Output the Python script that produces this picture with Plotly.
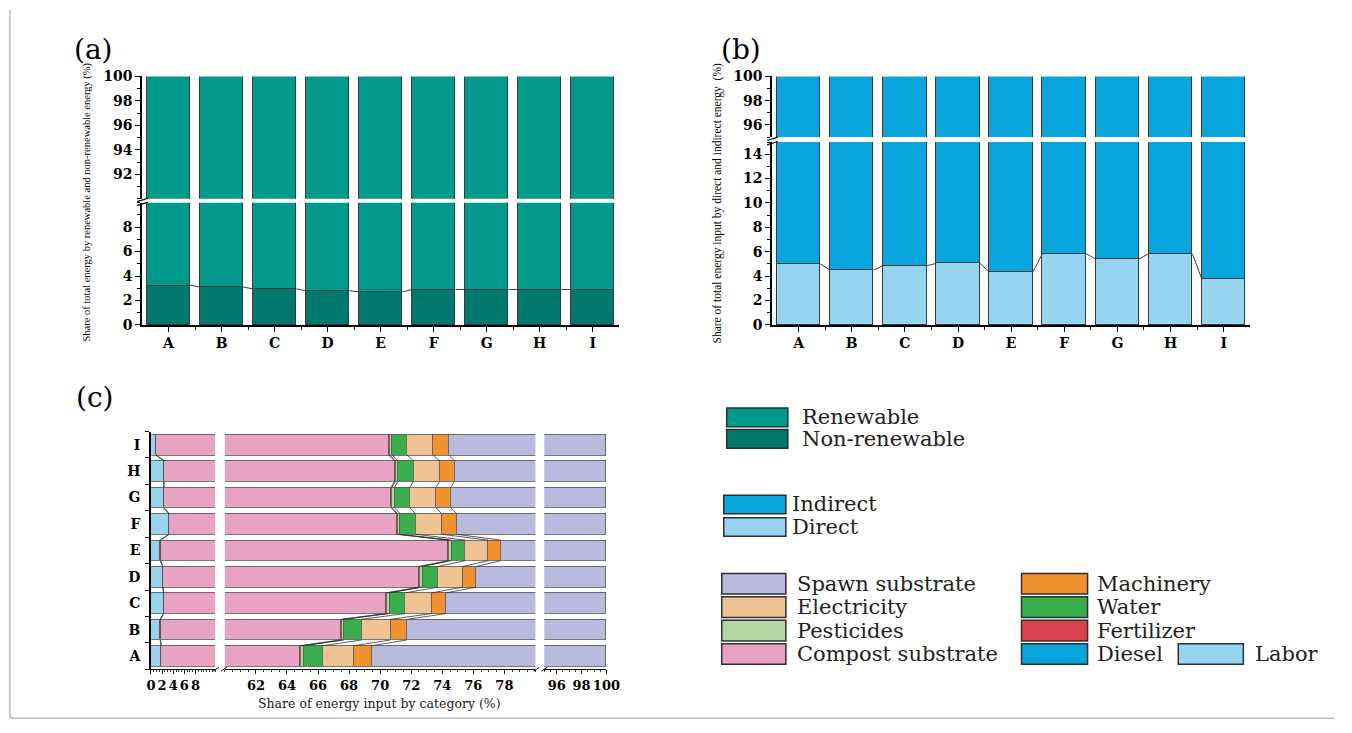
import plotly.graph_objects as go

W, H = 1352, 733

groups = ["A", "B", "C", "D", "E", "F", "G", "H", "I"]

# (a) share of total energy: renewable vs non-renewable (%)
non_renewable = [3.25, 3.10, 2.95, 2.80, 2.70, 2.90, 2.90, 2.90, 2.90]
renewable = [round(100 - v, 2) for v in non_renewable]

# (b) share of total energy input: direct vs indirect (%)
direct = [5.00, 4.50, 4.85, 5.05, 4.35, 5.85, 5.40, 5.85, 3.75]
indirect = [round(100 - v, 2) for v in direct]

# (c) share of energy input by category (%)
labor = [1.80, 1.65, 2.25, 2.10, 1.65, 3.20, 2.30, 2.30, 0.90]
diesel = [0.08, 0.08, 0.08, 0.08, 0.08, 0.08, 0.08, 0.08, 0.08]
compost = [62.97, 65.74, 68.06, 70.33, 72.64, 67.79, 68.33, 68.54, 69.58]
fertilizer = [0.06, 0.06, 0.06, 0.06, 0.06, 0.06, 0.06, 0.06, 0.06]
pesticides = [0.16, 0.16, 0.16, 0.16, 0.16, 0.16, 0.16, 0.16, 0.16]
water = [1.23, 1.12, 1.00, 0.99, 0.89, 0.99, 0.98, 1.00, 0.95]
electricity = [2.01, 1.87, 1.71, 1.59, 1.48, 1.69, 1.69, 1.69, 1.69]
machinery = [1.14, 1.06, 0.93, 0.87, 0.81, 0.95, 0.95, 0.95, 1.00]

parts_c = [labor, diesel, compost, fertilizer, pesticides, water, electricity, machinery]
spawn = [round(100 - sum(p[i] for p in parts_c), 2) for i in range(len(groups))]

# colours
C_RENEW, C_NONRENEW = "#00998b", "#00786d"
C_INDIRECT, C_DIRECT = "#08a6dd", "#96d4f0"
C_LABOR, C_DIESEL = "#96d4f0", "#08a6dd"
C_COMPOST, C_FERT, C_PEST = "#e8a2c2", "#d8434f", "#b4d6a2"
C_WATER, C_ELEC, C_MACH, C_SPAWN = "#3aae4c", "#f0c394", "#ef922f", "#b9badd"
OUTLINE = "#3a3a3a"

SERIF = "DejaVu Serif"
TIMES = "Liberation Serif"


def px(x):
    return x / W


def py(y):
    return 1 - y / H


idx = list(range(len(groups)))
fig = go.Figure()

# ---------- (a) and (b): vertical stacked bars on broken y axes ----------
BW = 0.82


def vbar(vals, color, xa, ya):
    fig.add_trace(go.Bar(x=idx, y=vals, width=BW, marker=dict(color=color, line=dict(color=OUTLINE, width=1)),
                         xaxis=xa, yaxis=ya, showlegend=False, hoverinfo="skip"))


for xa, ya in [("x", "y"), ("x2", "y2")]:
    vbar(non_renewable, C_NONRENEW, xa, ya)
    vbar(renewable, C_RENEW, xa, ya)
for xa, ya in [("x3", "y3"), ("x4", "y4")]:
    vbar(direct, C_DIRECT, xa, ya)
    vbar(indirect, C_INDIRECT, xa, ya)


def connectors_v(vals, xa, ya):
    xs, ys = [], []
    for i in range(len(vals) - 1):
        xs += [i + BW / 2, i + 1 - BW / 2, None]
        ys += [vals[i], vals[i + 1], None]
    fig.add_trace(go.Scatter(x=xs, y=ys, mode="lines", line=dict(color=OUTLINE, width=1),
                             xaxis=xa, yaxis=ya, showlegend=False, hoverinfo="skip"))


connectors_v(non_renewable, "x", "y")
connectors_v(direct, "x3", "y3")

# ---------- (c): horizontal stacked bars on a broken x axis ----------
HW = 0.78
series_c = [(labor, C_LABOR), (diesel, C_DIESEL), (compost, C_COMPOST), (fertilizer, C_FERT),
            (pesticides, C_PEST), (water, C_WATER), (electricity, C_ELEC), (machinery, C_MACH),
            (spawn, C_SPAWN)]
seg_axes = [("x5", "y5", 0, 11.5), ("x6", "y6", 60, 80), ("x7", "y7", 95, 100)]
for xa, ya, lo, hi in seg_axes:
    for vals, col in series_c:
        fig.add_trace(go.Bar(x=vals, y=idx, orientation="h", width=HW,
                             marker=dict(color=col, line=dict(color="#555555", width=0.8)),
                             xaxis=xa, yaxis=ya, showlegend=False, hoverinfo="skip"))

# connecting lines between the stacked boundaries of neighbouring rows
cum = []
running = [0.0] * len(groups)
for vals, _ in series_c[:-1]:
    running = [running[i] + vals[i] for i in range(len(groups))]
    cum.append(list(running))
for bnd in cum:
    for xa, ya, lo, hi in seg_axes:
        xs, ys = [], []
        for i in range(len(groups) - 1):
            a, b = bnd[i], bnd[i + 1]
            if lo <= a <= hi and lo <= b <= hi:
                xs += [a, b, None]
                ys += [i + HW / 2, i + 1 - HW / 2, None]
        if xs:
            fig.add_trace(go.Scatter(x=xs, y=ys, mode="lines", line=dict(color="#333333", width=0.8),
                                     xaxis=xa, yaxis=ya, showlegend=False, hoverinfo="skip"))

# ---------- axes ----------
tick_font = dict(family=SERIF, size=14, color="black", weight="bold")
axis_common = dict(showgrid=False, zeroline=False, showline=True, linecolor="black", linewidth=1.5,
                   ticks="outside", ticklen=5, tickwidth=1, tickcolor="black", tickfont=tick_font)
cat_x = dict(axis_common, range=[-0.5, 8.5], tickvals=idx, ticktext=groups,
             minor=dict(tickvals=[i + 0.5 for i in range(8)], ticks="outside", ticklen=3, tickcolor="black"))

layout_axes = dict(
    xaxis=dict(cat_x, domain=[px(139), px(623)], anchor="y"),
    yaxis=dict(axis_common, domain=[py(324), py(199)], anchor="x", range=[0, 10],
               tickvals=[0, 2, 4, 6, 8], minor=dict(dtick=1, ticks="outside", ticklen=3, tickcolor="black")),
    xaxis2=dict(domain=[px(139), px(623)], anchor="y2", matches="x", visible=False),
    yaxis2=dict(axis_common, domain=[py(195), py(70)], anchor="x2", range=[90, 100],
                tickvals=[92, 94, 96, 98, 100], minor=dict(dtick=1, ticks="outside", ticklen=3, tickcolor="black")),
    xaxis3=dict(cat_x, domain=[px(778), px(1263)], anchor="y3"),
    yaxis3=dict(axis_common, domain=[py(324), py(137)], anchor="x3", range=[0, 15],
                tickvals=[0, 2, 4, 6, 8, 10, 12, 14], minor=dict(dtick=1, ticks="outside", ticklen=3, tickcolor="black")),
    xaxis4=dict(domain=[px(778), px(1263)], anchor="y4", matches="x3", visible=False),
    yaxis4=dict(axis_common, domain=[py(132), py(70)], anchor="x4", range=[95, 100],
                tickvals=[96, 98, 100], minor=dict(dtick=1, ticks="outside", ticklen=3, tickcolor="black")),
)

tick_font_c = dict(family=SERIF, size=13, color="black", weight="bold")
minor_c = dict(dtick=0.5, ticks="outside", ticklen=2, tickcolor="#333333")
seg_x = dict(axis_common, ticklen=4, tickfont=tick_font_c, linewidth=1.2)
layout_axes.update(
    xaxis5=dict(seg_x, domain=[px(148), px(213)], anchor="y5", range=[0, 11.5],
                tickvals=[0, 2, 4, 6, 8], minor=minor_c),
    xaxis6=dict(seg_x, domain=[px(223), px(538)], anchor="y6", range=[60, 80],
                tickvals=list(range(62, 80, 2)), minor=minor_c),
    xaxis7=dict(seg_x, domain=[px(547), px(610)], anchor="y7", range=[95, 100],
                tickvals=[96, 98, 100], minor=minor_c),
    yaxis5=dict(showgrid=False, zeroline=False, showline=True, linecolor="black", linewidth=1.5,
                domain=[py(676), py(433)], anchor="x5", range=[-0.5, 8.5],
                tickvals=idx, ticktext=groups, ticks="", ticklabelstandoff=6,
                tickfont=dict(family=SERIF, size=14, color="black", weight="bold"),
                minor=dict(tickvals=[i + 0.5 for i in range(-1, 9)], ticks="outside", ticklen=4, tickcolor="black")),
    yaxis6=dict(domain=[py(676), py(433)], anchor="x6", matches="y5", visible=False),
    yaxis7=dict(domain=[py(676), py(433)], anchor="x7", matches="y5", visible=False),
)

# ---------- shapes: axis break marks, legends, frame ----------
shapes = []


def seg(x0, y0, x1, y1, color="black", width=1.2):
    shapes.append(dict(type="line", xref="paper", yref="paper", x0=px(x0), y0=py(y0), x1=px(x1), y1=py(y1),
                       line=dict(color=color, width=width)))


# y-axis break marks of (a) and (b)
seg(134, 198, 145, 194.5)
seg(134, 202, 145, 198.5)
seg(773, 135.5, 784, 132)
seg(773, 140, 784, 136.5)
# x-axis break marks of (c)
seg(211, 678, 217, 674, width=1)
seg(219, 678, 225, 674, width=1)
seg(536, 678, 542, 674, width=1)
seg(544, 678, 550, 674, width=1)

# outer frame
seg(5, 2, 5, 726, color="#9a9a9a", width=1)
seg(5, 726, 1348, 726, color="#9a9a9a", width=1)


def swatch(x0, y0, x1, y1, color):
    shapes.append(dict(type="rect", xref="paper", yref="paper", x0=px(x0), y0=py(y1), x1=px(x1), y1=py(y0),
                       fillcolor=color, line=dict(color="#2f2f2f", width=1.5)))


annotations = []


def text(x, y, s, size=21, family=SERIF, xanchor="left", color="#222222", weight="normal", angle=0):
    annotations.append(dict(x=px(x), y=py(y), xref="paper", yref="paper", text=s, showarrow=False,
                            xanchor=xanchor, yanchor="middle", textangle=angle,
                            font=dict(family=family, size=size, color=color, weight=weight)))


legend1 = [("Renewable", C_RENEW, 409, 428), ("Non-renewable", C_NONRENEW, 431, 450)]
for name, col, y0, y1 in legend1:
    swatch(732, y0, 794, y1, col)
    text(806, (y0 + y1) / 2, name)

legend2 = [("Indirect", C_INDIRECT, 498, 517), ("Direct", C_DIRECT, 521, 540)]
for name, col, y0, y1 in legend2:
    swatch(729, y0, 792, y1, col)
    text(796, (y0 + y1) / 2, name)

legend3_rows = [(578, 599), (602, 623), (626, 647), (650, 671)]
legend3_left = [("Spawn substrate", C_SPAWN), ("Electricity", C_ELEC), ("Pesticides", C_PEST),
                ("Compost substrate", C_COMPOST)]
legend3_right = [("Machinery", C_MACH), ("Water", C_WATER), ("Fertilizer", C_FERT), ("Diesel", C_DIESEL)]
for (name, col), (y0, y1) in zip(legend3_left, legend3_rows):
    swatch(727, y0, 792, y1, col)
    text(801, (y0 + y1) / 2, name)
for (name, col), (y0, y1) in zip(legend3_right, legend3_rows):
    swatch(1031, y0, 1098, y1, col)
    text(1106, (y0 + y1) / 2, name)
y0, y1 = legend3_rows[-1]
swatch(1190, y0, 1256, y1, C_LABOR)
text(1266, (y0 + y1) / 2, "Labor")

# panel labels and axis titles
text(68, 42, "(a)", size=28, color="black")
text(724, 42, "(b)", size=28, color="black")
text(70, 398, "(c)", size=28, color="black")
text(83, 198, "Share of total energy by renewable and non-renewable energy (%)", size=10.5, family=TIMES,
     xanchor="center", color="black", angle=-90)
text(723, 200, "Share of total energy input by direct and indirect energy  (%)", size=11.5, family=TIMES,
     xanchor="center", color="black", angle=-90)
text(380, 711, "Share of energy input by category (%)", size=12.5, xanchor="center", color="#1a1a1a")

fig.update_layout(
    width=W, height=H, margin=dict(l=0, r=0, t=0, b=0),
    paper_bgcolor="white", plot_bgcolor="white",
    barmode="stack", bargap=0, showlegend=False,
    shapes=shapes, annotations=annotations,
    **layout_axes,
)

fig.write_html("out.html")
